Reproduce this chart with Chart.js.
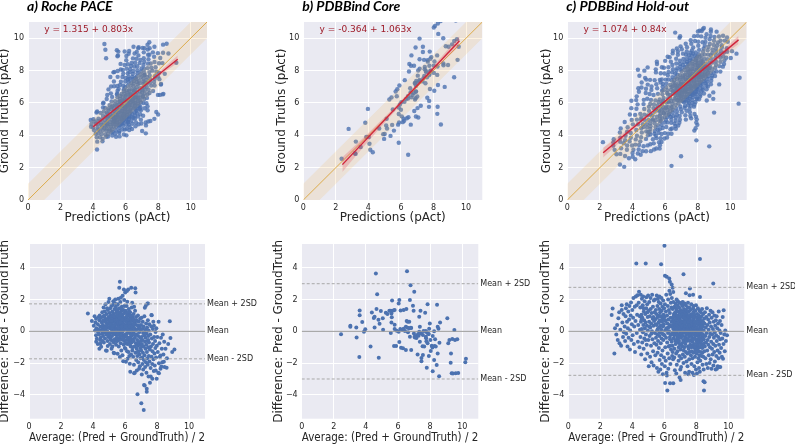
<!DOCTYPE html>
<html><head><meta charset="utf-8">
<script src="https://cdn.jsdelivr.net/npm/chart.js@4.4.1/dist/chart.umd.min.js"></script>
<style>
html,body{margin:0;padding:0;background:#fff;width:795px;height:444px;overflow:hidden;position:relative}
canvas{position:absolute}
</style></head><body>
<script>
// ---------------- data ----------------
const panelTitles = ['a) Roche PACE', 'b) PDBBind Core', 'c) PDBBind Hold-out'];
const fitLabels = ['y = 1.315 + 0.803x', 'y = -0.364 + 1.063x', 'y = 1.074 + 0.84x'];
const fitIntercepts = [1.315, -0.364, 1.074];
const fitSlopes = [0.803, 1.063, 0.84];
const ciXs = [[4.0, 5.0, 6.2, 7.5, 9.2], [2.4, 4.0, 6.5, 8.0, 9.6], [2.2, 4.0, 6.5, 8.5, 10.5]];
const ciHalfWidths = [[0.16, 0.08, 0.05, 0.08, 0.22], [0.45, 0.25, 0.12, 0.15, 0.30], [0.30, 0.14, 0.05, 0.10, 0.25]];
const identityMargin = 1;
const baMeans = [0, 0, 0];
const baUpper = [1.73, 3.00, 2.77];
const baLower = [-1.73, -3.00, -2.77];
const baLineNames = ['Mean + 2SD', 'Mean', 'Mean - 2SD'];
const scatterTicks = [0, 2, 4, 6, 8, 10];
const diffTicks = [-4, -2, 0, 2, 4];
const axisTitles = ['Predictions (pAct)', 'Ground Truths (pAct)', 'Average: (Pred + GroundTruth) / 2', 'Difference: Pred - GroundTruth'];

// Bland-Altman readings [average, difference] for each set
const rocheBA = [
[3.68,1.12],[3.93,0.65],[4.19,0.80],[4.13,0.06],[4.19,-0.25],[4.24,-0.46],[4.05,0.35],[4.10,0.95],[4.15,0.55],[4.22,0.20],[4.20,-0.65],[4.30,-0.80],
[4.30,0.45],[4.35,0.10],[4.38,-0.20],[4.40,-1.09],[4.46,-0.78],[4.40,0.70],[4.42,1.00],[4.45,0.30],[4.48,-0.40],[4.50,0.85],[4.51,-0.97],[4.52,0.05],[4.55,0.55],[4.57,-0.15],[4.58,1.20],[4.36,0.90],[4.44,-0.55],[4.56,0.25],[4.33,-0.05],[4.59,-0.60],
[4.62,0.40],[4.63,-0.30],[4.65,0.95],[4.66,1.50],[4.67,0.10],[4.68,-0.70],[4.70,0.65],[4.71,0.98],[4.72,-0.05],[4.73,1.25],[4.74,0.30],[4.75,-0.45],[4.77,0.80],[4.78,1.70],[4.80,0.15],[4.81,-1.20],[4.82,0.55],[4.83,-0.20],[4.85,1.10],[4.86,-1.22],[4.87,0.40],[4.88,1.45],[4.89,0.00],[4.90,0.75],[4.91,-0.60],[4.92,-0.93],[4.93,1.35],[4.94,0.25],[4.95,-0.35],[4.96,0.90],[4.97,1.85],[4.98,0.50],[4.99,-0.10],[4.64,0.70],[4.76,0.20],
[5.02,2.05],[5.01,0.60],[5.03,-0.25],[5.04,1.15],[5.05,0.20],[5.06,-0.80],[5.07,0.85],[5.08,1.45],[5.09,0.35],[5.10,-0.45],[5.11,0.70],[5.12,1.00],[5.13,-0.05],[5.14,0.45],[5.15,1.60],[5.16,-1.10],[5.17,0.15],[5.18,0.95],[5.19,-0.30],[5.20,0.55],[5.21,1.25],[5.22,0.05],[5.23,1.66],[5.24,-0.60],[5.25,0.80],[5.26,0.30],[5.27,1.90],[5.28,-0.15],[5.29,-1.35],[5.30,0.65],[5.31,1.10],[5.32,0.10],[5.33,-1.38],[5.34,0.40],[5.35,1.40],[5.36,-0.50],[5.37,0.75],[5.38,0.25],[5.39,2.01],[5.40,-0.20],[5.41,0.95],[5.42,0.50],[5.43,1.55],[5.44,-0.85],[5.45,0.15],[5.46,1.20],[5.47,0.60],[5.48,-0.40],[5.49,0.85],[5.06,0.45],[5.12,-0.55],[5.18,0.25],[5.24,1.05],[5.30,-0.70],[5.36,0.90],[5.42,-0.05],[5.48,1.35],[5.15,0.65],[5.27,0.35],[5.33,0.95],[5.40,0.70],[5.45,-0.60],[5.21,-0.95],[5.08,-0.10],[5.38,1.75],
[5.50,0.20],[5.51,1.30],[5.52,-0.60],[5.53,0.75],[5.54,-1.41],[5.55,0.40],[5.56,1.70],[5.57,-0.20],[5.58,2.05],[5.59,0.95],[5.60,0.05],[5.61,-0.95],[5.62,0.60],[5.63,1.45],[5.64,2.75],[5.65,0.30],[5.66,-0.40],[5.67,1.10],[5.68,3.12],[5.68,-1.62],[5.69,0.80],[5.70,-0.10],[5.71,1.85],[5.72,0.45],[5.73,-0.75],[5.74,2.12],[5.75,0.15],[5.76,1.25],[5.77,-1.20],[5.78,0.65],[5.79,0.00],[5.80,1.55],[5.81,-0.50],[5.82,0.90],[5.83,0.35],[5.84,-1.50],[5.85,2.24],[5.86,1.05],[5.87,-0.25],[5.88,0.50],[5.89,-1.89],[5.90,1.35],[5.91,0.10],[5.92,-0.85],[5.93,2.64],[5.94,0.70],[5.95,1.97],[5.96,-0.35],[5.97,0.25],[5.98,1.15],[5.99,-1.05],[5.53,1.00],[5.57,0.55],[5.61,0.25],[5.66,0.85],[5.70,0.55],[5.74,-0.30],[5.78,1.40],[5.82,-0.05],[5.86,0.20],[5.90,0.85],[5.94,-0.60],[5.98,0.40],[5.55,-0.15],[5.63,-0.55],[5.72,1.05],[5.80,0.30],[5.88,-0.45],[5.96,1.60],[5.60,1.20],[5.84,0.75],
[6.01,2.45],[6.01,-0.20],[6.02,0.65],[6.03,-1.10],[6.04,1.30],[6.05,0.15],[6.06,-1.91],[6.07,0.85],[6.08,-0.55],[6.09,0.40],[6.10,1.60],[6.11,-0.15],[6.12,2.54],[6.13,0.55],[6.14,1.87],[6.15,-0.80],[6.16,-1.73],[6.17,0.25],[6.18,1.05],[6.19,-0.40],[6.20,2.64],[6.21,0.70],[6.22,-1.30],[6.23,0.05],[6.24,1.40],[6.25,-0.65],[6.26,0.35],[6.27,-1.55],[6.28,0.95],[6.29,-0.10],[6.30,-2.04],[6.31,0.60],[6.32,1.20],[6.33,-2.54],[6.34,-0.35],[6.35,0.20],[6.36,-0.95],[6.37,0.80],[6.38,-1.45],[6.39,2.75],[6.40,0.10],[6.41,-0.70],[6.42,1.50],[6.43,-0.25],[6.44,0.45],[6.45,1.80],[6.46,-1.20],[6.47,0.00],[6.48,-0.50],[6.49,0.90],[6.03,0.30],[6.07,-0.30],[6.11,0.95],[6.15,0.10],[6.19,0.75],[6.23,-0.45],[6.27,0.50],[6.31,-0.85],[6.35,1.00],[6.39,-0.20],[6.43,0.65],[6.47,-1.00],[6.05,-0.75],[6.13,-1.25],[6.21,-0.05],[6.29,0.30],[6.37,-0.55],[6.45,0.25],[6.09,1.15],[6.25,1.25],
[6.50,0.30],[6.51,-1.60],[6.52,0.75],[6.53,-0.60],[6.54,1.10],[6.55,-0.15],[6.56,-2.10],[6.57,1.55],[6.57,-2.64],[6.58,0.20],[6.59,-0.95],[6.60,0.55],[6.61,-2.61],[6.62,-0.40],[6.63,1.30],[6.64,2.71],[6.65,-1.35],[6.66,2.45],[6.67,0.05],[6.68,-0.75],[6.69,0.90],[6.70,-1.80],[6.71,-0.20],[6.72,0.40],[6.73,-1.10],[6.74,-2.46],[6.75,0.65],[6.76,-0.55],[6.77,-1.55],[6.78,-3.96],[6.79,0.15],[6.80,-0.90],[6.81,1.00],[6.82,-0.30],[6.83,-1.95],[6.84,0.35],[6.85,-0.70],[6.86,-1.25],[6.87,0.60],[6.88,-2.36],[6.89,-0.05],[6.90,-1.45],[6.91,0.25],[6.92,-0.85],[6.93,-2.20],[6.94,0.80],[6.95,-0.40],[6.96,-1.05],[6.97,0.10],[6.98,-1.70],[6.99,-0.60],[6.55,0.45],[6.63,-0.25],[6.71,0.70],[6.79,-1.30],
[7.00,0.40],[7.01,-1.20],[7.02,-4.53],[7.03,-0.35],[7.04,0.85],[7.05,-2.72],[7.06,-0.80],[7.07,-1.65],[7.08,0.15],[7.09,-2.05],[7.10,-0.55],[7.11,0.60],[7.12,-1.35],[7.13,-0.10],[7.14,-2.40],[7.15,0.30],[7.16,-0.95],[7.17,-4.95],[7.18,-1.80],[7.19,-3.38],[7.20,-0.25],[7.21,0.95],[7.22,-1.50],[7.23,-3.41],[7.24,1.49],[7.25,-0.65],[7.26,-2.25],[7.27,0.10],[7.28,-1.10],[7.29,-0.40],[7.30,1.61],[7.31,-1.95],[7.32,0.50],[7.33,-0.85],[7.34,-2.60],[7.35,-0.15],[7.36,-3.62],[7.37,-1.30],[7.38,0.25],[7.39,-1.70],[7.40,1.75],[7.41,-0.60],[7.42,-2.10],[7.43,0.70],[7.44,1.76],[7.45,-1.00],[7.46,-0.30],[7.47,-2.85],[7.48,0.05],[7.49,-1.55],[7.36,-3.80],[7.08,-0.95],[7.22,-0.05],[7.45,-0.55],
[7.50,-0.70],[7.52,0.45],[7.53,-1.90],[7.55,-1.15],[7.56,-3.24],[7.58,-0.20],[7.60,-2.30],[7.61,-2.85],[7.62,-0.95],[7.64,0.30],[7.65,1.03],[7.66,-1.60],[7.67,1.01],[7.68,-0.45],[7.70,-2.05],[7.71,-2.99],[7.72,-1.25],[7.74,0.15],[7.75,-0.80],[7.77,0.61],[7.78,-1.75],[7.80,-2.50],[7.81,0.36],[7.82,-0.35],[7.84,-1.40],[7.86,-2.15],[7.88,-0.60],[7.90,-1.05],[7.91,-0.04],[7.92,-2.47],[7.94,-1.65],[7.96,0.20],[7.98,-2.99],[7.99,-0.90],
[8.02,-0.36],[8.05,-1.30],[8.08,-2.61],[8.10,0.61],[8.12,-2.64],[8.12,-2.01],[8.15,-0.75],[8.18,-1.60],[8.22,-2.36],[8.22,-1.52],[8.25,-0.40],[8.27,-2.22],[8.30,-1.10],[8.33,-1.94],[8.36,-0.20],[8.40,-1.45],[8.43,-1.91],[8.47,-2.25],[8.45,-0.65],
[8.53,-1.09],[8.60,-2.29],[8.62,-1.70],[8.70,-0.80],[8.80,0.63],[8.84,-0.42],[8.95,-1.30],[9.09,-1.14]
];

const coreBA = [
[2.45,-0.19],[3.03,0.36],[3.03,0.29],[3.40,0.25],[3.42,-0.38],[3.61,1.32],[3.61,1.01],[3.59,-1.61],[3.77,0.59],[3.88,-0.02],[3.96,0.13],[4.29,-0.96],[4.37,1.19],[4.49,0.84],[4.54,0.92],[4.62,3.65],[4.66,1.40],[4.70,2.33],[4.78,0.73],[4.80,-1.66],[4.85,0.48],[4.54,0.25],[5.05,0.82],[5.07,0.10],[5.24,1.17],[5.46,1.30],[5.55,1.30],[5.59,1.13],[5.63,1.95],[5.61,0.88],[5.71,1.32],[5.79,1.34],[5.55,-0.10],[5.79,0.42],[5.75,-0.92],[5.88,-0.92],[5.92,0.04],[6.04,1.76],[6.08,1.97],[6.14,0.15],[6.08,-0.67],[6.19,-1.03],[6.31,-1.07],[6.29,0.08],[6.35,1.34],[6.52,1.40],[6.56,3.79],[6.54,0.65],[6.60,0.61],[6.70,0.61],[6.78,2.91],[7.01,2.49],[6.74,1.97],[6.93,1.61],[6.97,1.30],[6.70,0.19],[6.49,0.29],[6.43,0.02],[6.62,-0.06],[6.74,-0.34],[6.82,0.21],[6.99,-0.13],[7.05,-0.38],[7.11,-0.29],[7.15,-0.42],[7.24,-0.19],[7.28,-0.27],[7.32,0.92],[7.36,0.29],[7.40,1.30],[6.82,-1.17],[7.22,-1.45],[7.36,-0.65],[7.44,-0.13],[7.53,-0.94],[7.55,-0.23],[7.63,-0.96],[7.69,1.17],[7.73,0.02],[7.75,-0.44],[7.79,-0.06],[7.84,1.70],[7.88,-0.17],[7.77,-0.63],[7.84,-0.75],[7.94,0.17],[7.98,0.50],[8.04,-1.24],[8.10,-0.90],[8.14,-1.01],[8.16,-0.29],[8.27,-0.92],[8.25,0.00],[8.31,-0.50],[8.35,-0.96],[8.43,1.68],[8.47,0.29],[8.52,0.17],[8.58,-0.71],[8.62,0.55],[7.46,-1.68],[7.46,-1.89],[7.55,-1.49],[7.79,-2.29],[7.92,-1.55],[8.16,-2.52],[8.25,-1.80],[8.41,-2.12],[8.47,-1.40],[8.56,-2.83],[9.07,0.82],[9.13,-0.75],[9.20,-0.55],[9.30,-1.40],[9.28,-1.97],[9.38,-0.48],[9.51,0.08],[9.55,-0.55],[9.69,-0.50],[9.34,-2.64],[9.42,-2.66],[9.59,-2.64],[9.75,-2.62],[10.19,-1.95],[10.23,-1.72],[7.73,-0.34],[7.92,-0.17],[8.02,-0.55],[7.03,-0.34],[6.80,0.23],[6.35,0.17],[6.04,-0.02],[5.79,0.15],[6.60,0.23],[7.32,-0.02],[7.59,0.02],[4.93,1.28],[5.34,1.09],[5.59,0.55],[6.16,1.32],[6.49,-1.17]
];

const holdoutBA = [
[2.71,1.03],[2.77,1.44],[2.88,-1.39],[2.92,0.19],[3.09,-0.54],[3.13,0.82],[3.34,1.34],[3.34,1.65],[3.00,-0.20],[3.05,0.40],[3.20,-0.75],[3.25,0.10],[3.30,-0.90],[3.38,0.55],[3.42,-0.35],[3.45,1.10],[3.48,-0.05],[3.18,1.20],
[3.52,0.30],[3.55,-0.60],[3.58,0.95],[3.60,1.45],[3.62,-0.15],[3.65,1.70],[3.67,0.60],[3.70,-0.95],[3.72,0.20],[3.75,1.25],[3.77,-0.40],[3.80,0.75],[3.82,1.60],[3.85,-1.15],[3.87,0.05],[3.90,1.00],[3.92,1.82],[3.94,-0.55],[3.97,0.45],[4.00,1.35],[4.02,-0.25],[4.05,0.85],[4.07,2.10],[4.10,-0.80],[4.12,0.30],[4.15,1.55],[4.17,-1.30],[4.20,0.65],[4.22,2.20],[4.25,4.28],[4.27,1.65],[4.28,-0.10],[4.30,1.05],[4.32,2.28],[4.35,-0.65],[4.37,0.40],[4.40,1.80],[4.42,2.49],[4.45,-1.00],[4.47,0.95],[4.48,0.10],
[4.50,1.50],[4.51,-0.35],[4.53,2.30],[4.54,0.60],[4.56,-1.45],[4.57,1.05],[4.59,0.15],[4.60,2.05],[4.62,-0.70],[4.63,0.85],[4.65,1.65],[4.66,-0.05],[4.68,2.20],[4.69,0.40],[4.71,-1.10],[4.72,1.25],[4.74,0.70],[4.75,-0.45],[4.77,1.90],[4.78,0.20],[4.80,-1.75],[4.81,1.10],[4.83,0.55],[4.84,4.27],[4.85,-0.20],[4.87,1.45],[4.88,2.15],[4.90,-0.85],[4.91,0.35],[4.93,1.70],[4.94,-1.40],[4.96,0.90],[4.97,0.05],[4.99,2.25],[5.00,-0.55],[5.02,1.30],[5.03,-2.20],[5.05,0.60],[5.06,1.85],[5.08,-0.30],[5.09,0.95],[5.11,-1.60],[5.12,0.25],[5.14,2.10],[5.15,1.40],[5.17,-0.90],[5.18,0.50],[5.20,-1.95],[5.21,1.15],[5.23,0.00],[5.24,2.30],[5.26,-0.50],[5.27,0.80],[5.29,1.55],[5.30,-1.25],[5.32,0.35],[5.33,-2.15],[5.35,1.95],[5.36,0.65],[5.38,-0.75],[5.39,1.20],[5.41,-0.10],[5.42,2.00],[5.44,-1.50],[5.45,0.45],[5.47,1.35],[5.48,-0.40],[4.58,0.75],[4.70,1.45],[4.82,-0.55],[4.95,1.20],[5.07,0.30],[5.19,-0.15],[5.31,0.90],[5.43,0.75],
[5.50,1.10],[5.51,-0.85],[5.52,0.40],[5.53,2.25],[5.54,-2.30],[5.55,0.85],[5.56,-0.20],[5.57,1.60],[5.58,-1.35],[5.59,0.15],[5.60,2.05],[5.61,-0.60],[5.62,1.00],[5.63,-2.55],[5.64,0.55],[5.65,1.85],[5.66,-1.05],[5.67,0.25],[5.68,1.40],[5.69,-0.30],[5.70,2.20],[5.71,-1.80],[5.72,0.70],[5.73,-0.05],[5.74,1.20],[5.75,-2.40],[5.76,0.35],[5.77,1.75],[5.78,-0.75],[5.79,0.95],[5.80,4.23],[5.80,-1.50],[5.81,0.10],[5.82,2.10],[5.83,-0.45],[5.84,1.30],[5.85,-2.05],[5.86,0.60],[5.87,-0.15],[5.88,1.55],[5.89,-1.20],[5.90,0.80],[5.91,-2.70],[5.92,0.30],[5.93,1.95],[5.94,-0.55],[5.95,1.05],[6.05,-3.26],[5.97,0.45],[5.98,-1.65],[5.99,1.45],[6.04,3.50],[6.01,5.39],[6.01,-0.25],[6.02,0.90],[6.03,-2.20],[6.04,1.70],[6.05,0.05],[6.06,-1.00],[6.15,3.44],[6.08,0.65],[6.09,-1.85],[6.10,1.25],[6.11,-0.40],[6.12,2.30],[6.13,0.20],[6.14,-2.60],[6.31,3.33],[6.19,-3.72],[6.16,-2.78],[6.17,1.00],[6.18,-0.70],[6.19,0.50],[6.35,3.12],[6.21,-1.40],[6.22,1.60],[6.23,-0.10],[6.24,2.00],[6.25,-2.35],[6.26,0.75],[6.46,2.95],[6.28,-0.95],[6.29,1.35],[6.30,0.00],[6.31,-1.70],[6.32,2.55],[6.33,0.40],[6.36,-3.27],[6.35,1.15],[6.36,-0.50],[6.37,2.35],[6.38,-2.05],[6.39,0.85],[6.40,-0.20],[6.41,1.80],[6.42,-1.15],[6.43,0.30],[6.34,-0.90],[6.45,1.50],[6.46,-0.65],[6.47,2.10],[6.48,0.60],[6.49,-1.55],[5.55,0.05],[5.65,0.55],[5.75,0.95],[5.85,0.35],[5.95,-0.20],[6.05,0.70],[6.15,0.10],[6.25,0.25],[6.35,-0.35],[6.45,0.60],[6.52,2.74],
[6.50,0.35],[6.51,-0.90],[6.52,1.40],[6.53,-0.10],[6.54,0.80],[6.55,-1.75],[6.56,0.15],[6.57,1.85],[6.58,-0.45],[6.59,0.55],[6.56,-3.27],[6.60,1.10],[6.52,-1.30],[6.56,2.48],[6.58,0.95],
[6.61,-0.25],[6.62,0.70],[6.63,-1.10],[6.64,1.55],[6.65,0.05],[6.66,-2.45],[6.67,0.45],[6.68,1.20],[6.69,-0.60],[6.62,-1.65],[6.64,0.25],[6.66,0.95],[6.68,-0.15],[6.70,1.75],[6.69,0.60],
[6.71,-0.80],[6.72,0.30],[6.73,1.45],[6.74,-1.40],[6.75,0.75],[6.76,-0.05],[6.77,2.00],[6.78,-2.10],[6.79,0.50],[6.80,-0.35],[6.72,1.05],[6.74,-0.55],[6.76,0.20],[6.78,1.30],[6.80,0.85],[6.75,-2.65],
[6.81,0.40],[6.82,-1.25],[6.83,1.65],[6.84,-0.20],[6.85,0.95],[6.86,-0.70],[6.87,0.10],[6.88,1.25],[6.89,-1.85],[6.90,0.60],[6.82,0.15],[6.84,1.00],[6.86,-0.45],[6.88,0.35],[6.90,-1.00],[6.85,1.90],
[6.91,-0.30],[6.92,1.50],[6.93,0.25],[6.94,-1.55],[6.95,0.80],[6.96,-0.15],[6.97,1.15],[6.98,-0.85],[6.99,0.45],[7.00,-2.40],[6.92,-0.60],[6.94,0.55],[6.96,1.80],[6.98,0.05],[7.00,0.90],[6.95,-2.90],
[7.01,0.20],[7.02,-1.15],[7.03,1.35],[7.04,-0.40],[7.05,0.65],[7.06,-1.70],[7.07,1.00],[7.08,-0.05],[7.09,1.70],[7.10,-0.75],[7.02,0.50],[7.04,0.95],[7.06,-0.20],[7.08,0.35],[7.10,1.20],[7.05,-2.25],[7.02,-3.06],
[7.11,0.55],[7.12,-0.95],[7.13,1.60],[7.14,-0.30],[7.15,0.15],[7.16,-1.45],[7.17,0.85],[7.18,-0.55],[7.19,1.25],[7.20,3.60],[7.12,0.30],[7.14,1.05],[7.16,-0.10],[7.18,0.60],[7.20,-2.00],[7.15,1.85],
[7.21,0.40],[7.22,-1.20],[7.23,1.40],[7.24,-0.65],[7.25,0.70],[7.26,-0.05],[7.27,1.75],[7.28,-1.60],[7.29,0.25],[7.30,-0.35],[7.22,0.90],[7.24,0.10],[7.26,1.10],[7.28,0.55],[7.30,-2.60],[7.25,-1.00],
[7.31,1.20],[7.32,-0.80],[7.33,0.35],[7.34,1.65],[7.35,-1.30],[7.36,0.70],[7.37,-0.20],[7.38,1.00],[7.39,-1.90],[7.40,0.15],[7.32,0.55],[7.34,-0.45],[7.36,1.35],[7.38,-0.05],[7.40,0.85],[7.35,2.40],
[7.41,-0.60],[7.42,1.10],[7.43,0.30],[7.44,-1.40],[7.45,0.75],[7.46,-0.15],[7.47,1.50],[7.48,-0.95],[7.49,0.50],[7.50,-2.70],[7.42,0.05],[7.44,0.95],[7.46,-0.50],[7.48,1.80],[7.50,0.20],[7.45,-2.20],
[7.51,0.60],[7.52,-1.10],[7.53,1.25],[7.54,-0.35],[7.55,0.10],[7.56,-1.75],[7.57,0.85],[7.58,2.27],[7.59,-0.60],[7.60,0.40],[7.52,0.95],[7.54,-0.05],[7.56,1.50],[7.58,-1.30],[7.60,-0.20],[7.55,-2.55],
[7.61,0.70],[7.62,-0.85],[7.63,1.35],[7.64,-0.25],[7.65,0.15],[7.66,-1.50],[7.67,0.95],[7.68,-0.55],[7.69,1.70],[7.70,-2.05],[7.62,0.30],[7.64,1.05],[7.66,-0.05],[7.68,0.55],[7.70,-1.00],[7.60,2.70],
[7.71,0.20],[7.72,-1.25],[7.73,1.10],[7.74,-0.40],[7.75,0.65],[7.76,-2.60],[7.77,0.05],[7.78,-0.90],[7.80,2.30],[7.80,0.45],[7.72,-0.15],[7.74,0.90],[7.76,-1.70],[7.78,0.30],[7.80,1.45],[7.75,-0.65],
[7.81,-0.50],[7.82,0.80],[7.83,-1.35],[7.84,0.25],[7.85,1.25],[7.86,-0.80],[7.87,0.00],[7.88,-2.20],[7.89,0.55],[7.90,-1.05],[7.82,1.60],[7.84,-0.20],[7.86,0.40],[7.88,1.05],[7.90,-0.45],[7.85,-2.75],
[7.91,0.35],[7.92,-1.60],[7.93,0.90],[7.94,-0.30],[7.95,1.30],[7.96,-0.95],[7.97,0.10],[7.98,-2.40],[7.99,0.65],[8.00,-0.60],[7.92,0.60],[7.94,-1.20],[7.96,0.20],[7.98,1.65],[8.00,-0.10],[8.23,2.17],
[8.01,0.50],[8.02,-1.40],[8.03,0.05],[8.04,-0.75],[8.05,1.10],[8.06,-0.20],[8.07,-1.95],[8.08,0.70],[8.09,-0.50],[8.10,1.45],[8.02,0.25],[8.04,-2.65],[8.06,0.85],[8.08,-1.10],[8.10,-0.05],
[8.11,-0.90],[8.12,0.40],[8.13,-1.70],[8.14,1.00],[8.15,-0.30],[8.16,0.15],[8.17,-2.30],[8.18,0.75],[8.19,-0.65],[8.20,1.30],[8.12,-0.10],[8.14,-1.25],[8.16,0.55],[8.18,-0.40],[8.20,-1.50],
[8.21,0.10],[8.22,-1.00],[8.23,0.80],[8.24,-0.45],[8.23,4.55],[8.25,-1.85],[8.26,0.35],[8.27,-0.15],[8.28,1.20],[8.29,-1.30],[8.30,0.55],[8.22,-2.55],[8.24,0.20],[8.26,-0.75],[8.28,-0.05],
[8.31,-0.60],[8.32,0.95],[8.33,-1.55],[8.34,0.25],[8.35,-0.25],[8.36,1.40],[8.37,-1.05],[8.38,0.50],[8.39,-2.10],[8.40,-0.35],[8.32,0.10],[8.34,-0.85],[8.36,0.65],[8.38,-1.35],
[8.41,0.30],[8.42,-0.90],[8.43,1.10],[8.44,-1.60],[8.45,-3.14],[8.46,0.05],[8.47,-0.50],[8.48,-3.73],[8.49,0.80],[8.50,-1.25],[8.52,-3.20],[8.42,-0.20],[8.44,0.55],[8.46,-2.40],[8.48,-0.75],
[8.51,0.50],[8.53,-0.95],[8.54,1.20],[8.56,-0.30],[8.57,-1.70],[8.59,0.25],[8.60,-0.70],[8.62,0.90],[8.63,-2.05],[8.65,-0.10],[8.66,1.45],[8.68,-1.20],[8.69,0.40],[8.71,-0.55],[8.72,-2.30],[8.74,0.75],[8.75,-0.85],[8.77,0.10],[8.78,-1.50],[8.80,1.05],[8.81,-0.35],[8.83,-2.00],[8.84,0.55],[8.86,-1.00],[8.87,-0.15],[8.89,1.30],[8.90,-1.75],[8.92,0.30],[8.93,-0.65],[8.95,-2.35],[8.96,0.85],[8.98,-1.10],[8.99,-0.20],[9.01,1.20],[9.02,-1.45],[9.04,0.15],[9.06,3.01],[9.06,-0.80],[9.07,-2.15],[9.09,0.60],[9.10,-0.40],[9.12,-1.30],[9.13,1.00],[9.15,-0.05],[9.16,-1.90],[9.18,0.35],[9.19,-0.90],[9.21,-2.40],[9.22,0.70],[9.24,-0.25],[9.25,-1.55],[9.27,0.95],[9.28,-0.60],[9.29,-2.36],[9.31,0.20],[9.33,-1.20],[9.34,-2.20],[9.36,0.50],[9.37,-0.35],[9.39,-1.70],[9.40,1.25],[9.42,-0.85],[9.43,-2.25],[9.45,0.05],[9.46,-1.35],[9.48,0.65],[9.49,-0.50],
[9.50,-2.25],[9.52,-0.10],[9.55,-1.05],[9.58,0.40],[9.60,-1.60],[9.62,-0.45],[9.65,0.90],[9.67,-1.73],[9.70,-0.80],[9.71,1.33],[9.75,-0.20],[9.78,-1.25],[9.81,0.06],[9.85,-0.60],[9.92,-0.25]
];
const panelData = [rocheBA, coreBA, holdoutBA];

// ---------------- layout (page pixels) ----------------
const TOP = {plotT: 22, plotB: 200, canvasTop: 0, canvasBottom: 225};
const BOT = {plotT: 244, plotB: 418.7, canvasTop: 226, canvasBottom: 445};
const topCols = [{l: 28, r: 207, t: 5}, {l: 303.3, r: 482.3, t: 281.7}, {l: 567.3, r: 746.7, t: 546.7}];
const botCols = [{l: 29, r: 205, t: 5.3}, {l: 301.7, r: 478.3, t: 279.3}, {l: 568.3, r: 744.3, t: 546.2}];

const INK = '#262626';
const BLUE = '#4C72B0';

const bgPlugin = {
  id: 'plotBg',
  beforeDraw(chart) {
    const {ctx, chartArea: a} = chart;
    ctx.save();
    ctx.fillStyle = '#EAEAF2';
    ctx.fillRect(a.left, a.top, a.right - a.left, a.bottom - a.top);
    ctx.restore();
  }
};
const textPlugin = {
  id: 'panelText',
  afterDraw(chart, args, o) {
    const {ctx, chartArea: a} = chart;
    const xs = chart.scales.x, ys = chart.scales.y;
    ctx.save();
    if (o.title) {
      ctx.font = 'italic bold 14px Lato';
      ctx.fillStyle = '#000';
      ctx.textAlign = 'left';
      ctx.textBaseline = 'alphabetic';
      ctx.fillText(o.title, a.left - 1, 11);
    }
    if (o.eq) {
      ctx.font = '9px "DejaVu Sans"';
      ctx.fillStyle = '#9e1b28';
      ctx.textAlign = 'left';
      ctx.textBaseline = 'middle';
      ctx.fillText(o.eq, xs.getPixelForValue(1), ys.getPixelForValue(10.5));
    }
    if (o.levels) {
      ctx.font = '8px "DejaVu Sans"';
      ctx.fillStyle = INK;
      ctx.textAlign = 'left';
      ctx.textBaseline = 'middle';
      o.levels.forEach(l => ctx.fillText(l.text, a.right + 2, ys.getPixelForValue(l.v)));
    }
    ctx.restore();
  }
};

function axis(title, ticks, min, max, pad) {
  return {
    type: 'linear', min: min, max: max,
    afterBuildTicks: s => { s.ticks = ticks.map(v => ({value: v})); },
    ticks: {autoSkip: false, maxRotation: 0, padding: pad, color: INK,
      font: {family: 'DejaVu Sans', size: 8},
      callback: v => v < 0 ? '\u2212' + Math.abs(v) : String(v)},
    grid: {color: '#ffffff', lineWidth: 1, drawTicks: false},
    border: {display: false},
    title: {display: true, text: title, color: INK, font: {family: 'DejaVu Sans', size: 12}, padding: 0}
  };
}

function makeChart(col, row, extraRight, cfg) {
  const c = document.createElement('canvas');
  const left = Math.round(col.t - 7.2);
  const right = Math.ceil(col.r + extraRight);
  const w = right - left, h = row.canvasBottom - row.canvasTop;
  c.width = w; c.height = h;
  c.style.left = left + 'px'; c.style.top = row.canvasTop + 'px';
  c.style.width = w + 'px'; c.style.height = h + 'px';
  document.body.appendChild(c);
  cfg.options.layout = {padding: {left: 0, top: row.plotT - row.canvasTop, right: right - col.r, bottom: 0}};
  cfg.options.scales.x.afterFit = s => { s.height = row.canvasBottom - row.plotB; };
  cfg.options.scales.y.afterFit = s => { s.width = col.l - left; };
  return new Chart(c, cfg);
}

const common = {responsive: false, animation: false, events: [],
  plugins: {legend: {display: false}, tooltip: {enabled: false}}};

function lineDs(points, color, width, order, extra) {
  return Object.assign({type: 'line', data: points, borderColor: color, borderWidth: width,
    pointRadius: 0, fill: false, order: order, tension: 0}, extra || {});
}

for (let i = 0; i < 3; i++) {
  const ba = panelData[i];
  const pts = ba.map(([a, d]) => ({x: a + d / 2, y: a - d / 2}));
  const b0 = fitIntercepts[i], b1 = fitSlopes[i];
  const xs = ciXs[i];
  const regLine = [xs[0], xs[xs.length - 1]].map(x => ({x: x, y: b0 + b1 * x}));
  const ciLo = xs.map((x, k) => ({x: x, y: b0 + b1 * x - ciHalfWidths[i][k]}));
  const ciHi = xs.map((x, k) => ({x: x, y: b0 + b1 * x + ciHalfWidths[i][k]}));
  const idLine = [0, 11].map(x => ({x: x, y: x}));
  const bandLo = [0, 11].map(x => ({x: x, y: x - identityMargin}));
  const bandHi = [0, 11].map(x => ({x: x, y: x + identityMargin}));

  makeChart(topCols[i], TOP, 12, {
    type: 'scatter',
    data: {datasets: [
      lineDs(regLine, '#d0253a', 1.4, 0),
      lineDs(ciLo, 'transparent', 0, 1, {cubicInterpolationMode: 'monotone'}),
      lineDs(ciHi, 'transparent', 0, 1, {cubicInterpolationMode: 'monotone', fill: '-1', backgroundColor: 'rgba(222,45,70,0.22)'}),
      lineDs(idLine, 'rgba(218,165,60,0.9)', 1, 2),
      lineDs(bandLo, 'transparent', 0, 3),
      lineDs(bandHi, 'transparent', 0, 3, {fill: '-1', backgroundColor: 'rgba(240,175,60,0.15)'}),
      {type: 'scatter', data: pts, backgroundColor: 'rgba(76,114,176,0.8)', borderWidth: 0, pointRadius: 2.2, order: 4}
    ]},
    options: Object.assign({}, common, {
      plugins: Object.assign({}, common.plugins, {panelText: {title: panelTitles[i], eq: fitLabels[i]}}),
      scales: {x: axis(axisTitles[0], scatterTicks, 0, 11, 3), y: axis(axisTitles[1], scatterTicks, 0, 11, 4)}
    }),
    plugins: [bgPlugin, textPlugin]
  });

  const baPts = ba.map(([a, d]) => ({x: a, y: d}));
  const span = v => [0, 11].map(x => ({x: x, y: v}));
  makeChart(botCols[i], BOT, 56, {
    type: 'scatter',
    data: {datasets: [
      lineDs(span(baMeans[i]), '#9a9a9a', 1, 0),
      lineDs(span(baUpper[i]), '#a8a8a8', 1, 0, {borderDash: [3, 2]}),
      lineDs(span(baLower[i]), '#a8a8a8', 1, 0, {borderDash: [3, 2]}),
      {type: 'scatter', data: baPts, backgroundColor: BLUE, borderWidth: 0, pointRadius: 2, order: 1}
    ]},
    options: Object.assign({}, common, {
      plugins: Object.assign({}, common.plugins, {panelText: {levels: [
        {v: baUpper[i], text: baLineNames[0]}, {v: baMeans[i], text: baLineNames[1]}, {v: baLower[i], text: baLineNames[2]}]}}),
      scales: {x: axis(axisTitles[2], scatterTicks, 0, 11, 3), y: axis(axisTitles[3], diffTicks, -5.5, 5.5, 4)}
    }),
    plugins: [bgPlugin, textPlugin]
  });
}
</script>
</body></html>
